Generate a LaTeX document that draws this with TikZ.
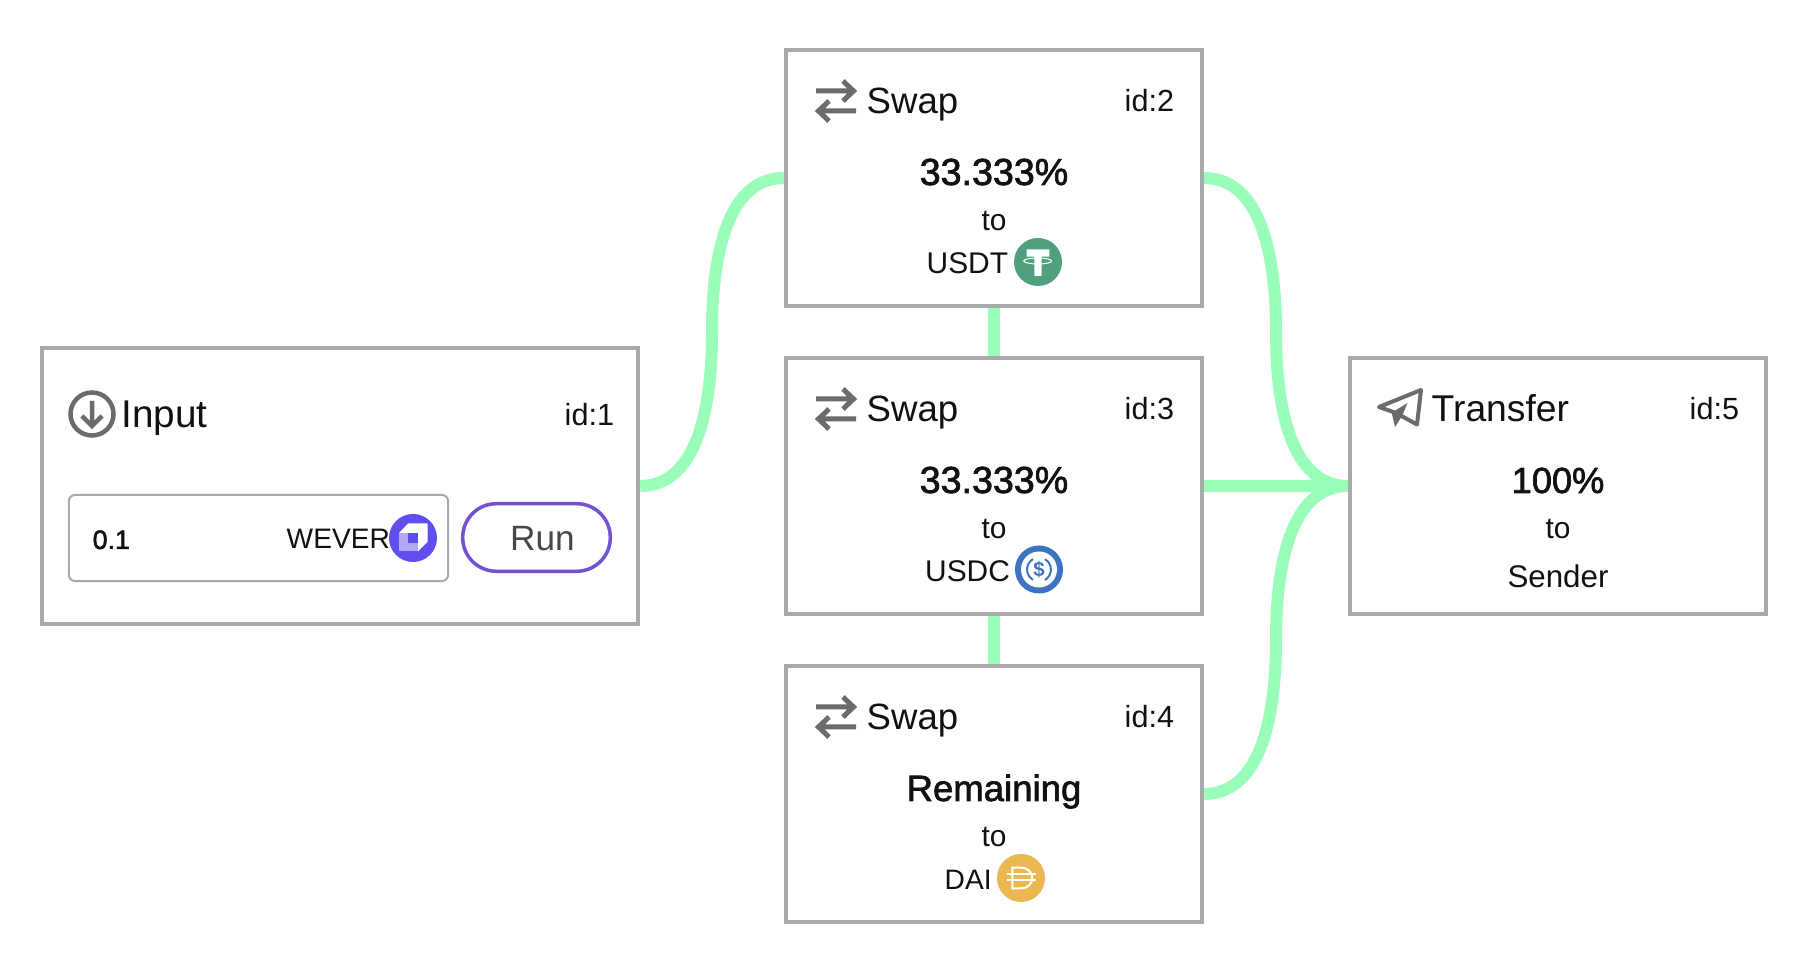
\documentclass[tikz,border=0pt]{standalone}
\usepackage{fontspec}
\setmainfont{Liberation Sans}
\newfontfamily\semifont[FakeBold=1.8]{Liberation Sans}
\usepackage{tikz}
\usetikzlibrary{positioning}
\definecolor{boxgray}{HTML}{A9A9A9}
\definecolor{icongray}{HTML}{6B6B6B}
\definecolor{wiregreen}{HTML}{9AFDB9}
\definecolor{runpurple}{HTML}{7352D1}
\definecolor{wevercol}{HTML}{5F4FEE}
\definecolor{weverlight}{HTML}{B3A8F5}
\definecolor{usdtcol}{HTML}{50A07E}
\definecolor{usdccol}{HTML}{3E73C4}
\definecolor{daicol}{HTML}{EBB750}
\definecolor{inktext}{HTML}{111111}
\tikzset{
block/.style={draw=boxgray,line width=4*0.01cm,fill=white,rectangle,minimum height=2.56cm,minimum width=4.16cm,inner sep=0pt},
wire/.style={draw=wiregreen,line width=12*0.01cm},
lbl/.style={anchor=base,inner sep=0pt,text=inktext},
lblw/.style={anchor=base west,inner sep=0pt,text=inktext},
head/.style={font=\fontsize{10.4}{12}\selectfont},
small/.style={font=\fontsize{8.5}{10}\selectfont},
idtext/.style={font=\fontsize{8.7}{10}\selectfont},
pct/.style={font=\semifont\fontsize{10.7}{12}\selectfont},
coin/.style={circle,minimum size=0.48cm,inner sep=0pt},
swapicon/.pic={
\draw[icongray,line width=5*0.01cm] (30,41) -- (67,41) (57,31) -- (67.5,41) -- (57,51);
\draw[icongray,line width=5*0.01cm] (70,61) -- (33,61) (43,51) -- (32.5,61) -- (43,71);
}
}
\begin{document}
\begin{tikzpicture}[x=0.01cm,y=-0.01cm]
\useasboundingbox (0,0) rectangle (1814,968);
\node[block,minimum width=5.96cm,minimum height=2.76cm] (input) at (340,486) {};
\node[block] (swapa) at (994,178) {};
\node[block] (swapb) at (994,486) {};
\node[block] (swapc) at (994,794) {};
\node[block] (transfer) at (1558,486) {};
\coordinate (midl) at (712,332);
\coordinate (midr) at (1276,332);
\coordinate (midb) at (1276,640);
\draw[wire] (input.east) .. controls +(52,0) and +(0,88) .. (midl) .. controls +(0,-88) and +(-52,0) .. (swapa.west);
\draw[wire] (swapa.east) .. controls +(52,0) and +(0,-88) .. (midr) .. controls +(0,88) and +(-52,0) .. (transfer.west);
\draw[wire] (swapc.east) .. controls +(52,0) and +(0,88) .. (midb) .. controls +(0,-88) and +(-52,0) .. (transfer.west);
\draw[wire] (swapb.east) -- (transfer.west);
\draw[wire] (swapa.south) -- (swapb.north);
\draw[wire] (swapb.south) -- (swapc.north);
\node[circle,draw=icongray,line width=4.5*0.01cm,minimum size=0.43cm,inner sep=0pt] (inicon) at (92,414) {};
\draw[icongray,line width=4.5*0.01cm] (inicon.center) ++(0,-13) -- ++(0,25) ++(-10,-10) -- ++(10,10) -- ++(10,-10);
\node[lblw,font=\fontsize{11}{12}\selectfont] (inlabel) at (121,428) {Input};
\node[lblw,idtext] (inid) at (564,426) {id:1};
\node[draw=boxgray,line width=2*0.01cm,rounded corners=0.06cm,minimum width=3.79cm,minimum height=0.86cm,inner sep=0pt] (amount) at (258.5,538) {};
\node[lblw,font=\semifont\fontsize{7.6}{10}\selectfont] (amountval) at (92,549) {0.1};
\node[lblw,font=\fontsize{8}{10}\selectfont] (wever) at (286,549) {WEVER};
\node[coin,fill=wevercol] (wevercoin) at (413,538) {};
\fill[white] (399.3,532.7) -- (408.3,523.3) -- (427.7,523.3) -- (427.7,541.7) -- (418.3,551) -- (399.3,551) -- cycle;
\fill[weverlight] (399.3,532.7) rectangle (418.3,551);
\fill[wevercol] (408.3,532.7) rectangle (418.3,542.7);
\node[draw=runpurple,line width=3.5*0.01cm,rounded corners=0.335cm,minimum width=1.475cm,minimum height=0.675cm,inner sep=0pt] (runbtn) at (536.5,537.5) {};
\node[lbl,text=black!72,font=\fontsize{10}{12}\selectfont] (runlabel) at (542.5,551) {Run};
\pic at (786,50) {swapicon};
\node[lblw,head] (swapatitle) at (866,113.5) {Swap};
\node[lblw,idtext] (swapaid) at (1124,112) {id:2};
\node[lbl,pct] (swapapct) at (994,185) {33.333\%};
\node[lbl,small] (swapato) at (994,231) {to};
\node[lblw,small] (usdtlabel) at (926,273.5) {USDT};
\node[coin,fill=usdtcol] (usdtcoin) at (1038,262) {};
\fill[white] (1026.7,249.3) rectangle (1049.3,256.7) (1034.3,256) rectangle (1041.7,276);
\draw[white,line width=1*0.01cm] (1037.7,261) ellipse (14 and 3);
\pic at (786,358) {swapicon};
\node[lblw,head] (swapbtitle) at (866,421.5) {Swap};
\node[lblw,idtext] (swapbid) at (1124,420) {id:3};
\node[lbl,pct] (swapbpct) at (994,493) {33.333\%};
\node[lbl,small] (swapbto) at (994,539) {to};
\node[lblw,small] (usdclabel) at (924.5,581.5) {USDC};
\node[coin,fill=usdccol] (usdccoin) at (1039,569.5) {};
\fill[white] (usdccoin.center) circle (18);
\draw[usdccol,line width=2*0.01cm] (usdccoin.center) ++(120:12) arc (120:240:12);
\draw[usdccol,line width=2*0.01cm] (usdccoin.center) ++(-60:12) arc (-60:60:12);
\node[inner sep=0pt,text=usdccol,font=\bfseries\fontsize{5.8}{8}\selectfont] (usdcsign) at (usdccoin.center) {\$};
\pic at (786,666) {swapicon};
\node[lblw,head] (swapctitle) at (866,729.5) {Swap};
\node[lblw,idtext] (swapcid) at (1124,728) {id:4};
\node[lbl,font=\semifont\fontsize{10.4}{12}\selectfont] (swapcpct) at (994,801) {Remaining};
\node[lbl,small] (swapcto) at (994,847) {to};
\node[lblw,font=\fontsize{8}{10}\selectfont] (dailabel) at (944,889.5) {DAI};
\node[coin,fill=daicol] (daicoin) at (1021,878) {};
\draw[white,line width=2*0.01cm] (1012.3,867.7) -- (1021,867.7) .. controls (1036,867.7) and (1036,888.3) .. (1021,888.3) -- (1012.3,888.3) -- cycle;
\draw[white,line width=2*0.01cm] (1007.3,874.3) -- (1036,874.3) (1007.3,880.3) -- (1036,880.3);
\draw[icongray,line width=4*0.01cm,line join=round] (1379,407) -- (1421,390) -- (1417,424.5) -- (1396,413) -- cycle;
\fill[icongray] (1391.7,412.7) -- (1407.5,403) -- (1402,416) -- (1395,427) -- cycle;
\node[lblw,font=\fontsize{10.6}{12}\selectfont] (transfertitle) at (1431,421.5) {Transfer};
\node[lblw,idtext] (transferid) at (1689,420) {id:5};
\node[lbl,font=\semifont\fontsize{10.3}{12}\selectfont] (transferpct) at (1558,493) {100\%};
\node[lbl,small] (transferto) at (1558,539) {to};
\node[lbl,font=\fontsize{8.9}{10}\selectfont] (sender) at (1558,588) {Sender};
\end{tikzpicture}
\end{document}
